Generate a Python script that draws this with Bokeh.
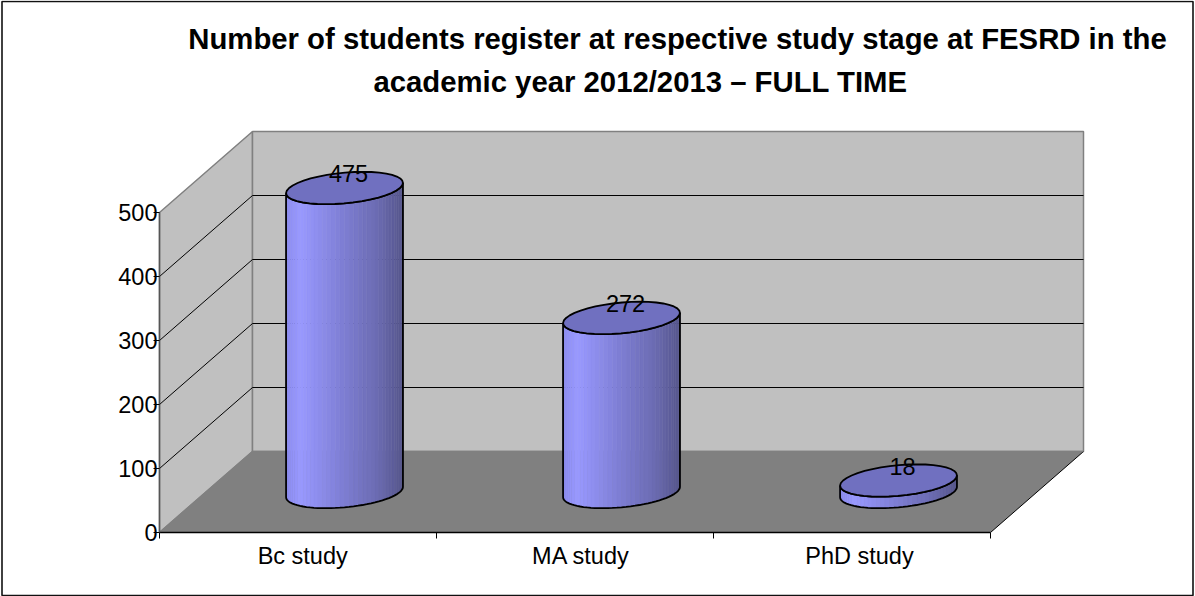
import numpy as np
from bokeh.plotting import figure
from bokeh.embed import file_html
from bokeh.resources import INLINE
from bokeh.models import Range1d, FixedTicker, Label, BoxAnnotation
from bokeh.core.properties import value

categories = ["Bc study", "MA study", "PhD study"]
students = [475, 272, 18]
y_ticks = [0, 100, 200, 300, 400, 500]
title_lines = ["Number of students register at respective study stage at FESRD in the",
               "academic year 2012/2013 \u2013 FULL TIME"]

FONT = "Liberation Sans"
W, H = 1195, 596
PX_X = 277.0   # pixels per category
PX_Y = 0.64    # pixels per student
DX = 93 / PX_X  # depth offset in x units
DY = 81 / PX_Y  # depth offset in y units
ORIGIN_X, ORIGIN_Y = 159, 532  # where category 0 / value 0 fall on the page

p = figure(width=W, height=H, output_backend="svg", toolbar_location=None,
           x_range=Range1d(-ORIGIN_X / PX_X, (W - ORIGIN_X) / PX_X),
           y_range=Range1d(-(H - ORIGIN_Y) / PX_Y, ORIGIN_Y / PX_Y),
           min_border=0,
           background_fill_color="white", border_fill_color="white", outline_line_color=None)
p.styles = {"position": "absolute", "left": "0px", "top": "0px"}
p.grid.visible = False

# floor and walls
p.patch([0, DX, DX, 0], [0, DY, 500 + DY, 500], fill_color="#C0C0C0", line_color="#808080", line_width=1.5)
p.patch([DX, 3 + DX, 3 + DX, DX], [DY, DY, 500 + DY, 500 + DY], fill_color="#C0C0C0", line_color="#808080", line_width=1.5)
p.patch([0, 3, 3 + DX, DX], [0, 0, DY, DY], fill_color="#808080", line_color=None)
p.line([3, 3 + DX], [0, DY], line_color="black", line_width=1)
p.line([DX, 3 + DX], [DY, DY], line_color="#808080", line_width=1.5)
p.line([0, DX], [0, DY], line_color="#808080", line_width=1.5)

# gridlines
for t in y_ticks[1:-1]:
    p.line([0, DX, 3 + DX], [t, t + DY, t + DY], line_color="black", line_width=1)

# cylinders
RX = 0.2
RD = 0.2
angles = np.linspace(0, 2 * np.pi, 41)
phi = np.arctan2(RD * DX, RX)  # angle of the right silhouette extreme


def rim(cx, level, t):
    return (cx + 0.5 + DX / 2 + RX * np.cos(t) + RD * DX * np.sin(t),
            level + DY / 2 + RD * DY * np.sin(t))


def shade(f):
    stops = [(0.0, (140, 140, 240)), (0.12, (153, 153, 255)), (0.5, (125, 125, 210)),
             (0.8, (106, 106, 175)), (1.0, (86, 86, 140))]
    for (a, ca), (b, cb) in zip(stops, stops[1:]):
        if f <= b:
            m = (f - a) / (b - a)
            return "#%02x%02x%02x" % tuple(int(round(u + (v - u) * m)) for u, v in zip(ca, cb))
    return "#56568c"


for i, v in enumerate(students):
    # front half of the rim runs from the right extreme to the left extreme
    ts = np.linspace(phi, phi - np.pi, 41)
    bx, by = rim(i, 0, ts)
    tx, ty = rim(i, v, ts)
    xs, ys, cols = [], [], []
    x0, x1 = bx.min(), bx.max()
    for j in range(len(ts) - 1):
        xs.append([bx[j], bx[j + 1], tx[j + 1], tx[j]])
        ys.append([by[j], by[j + 1], ty[j + 1], ty[j]])
        cols.append(shade(((bx[j] + bx[j + 1]) / 2 - x0) / (x1 - x0)))
    p.patches(xs, ys, fill_color=cols, line_color=cols, line_width=0.5)
    # silhouette
    p.line(list(tx) + list(bx[::-1]) + [tx[0]], list(ty) + list(by[::-1]) + [ty[0]],
           line_color="black", line_width=1.8)
    # top ellipse
    ex, ey = rim(i, v, angles)
    p.patch(ex, ey, fill_color="#7070C0", line_color="black", line_width=1.8)
    # value label
    p.text([i + 0.5 + DX / 2], [v + DY / 2 + RD * DY], text=[str(v)], text_font=value(FONT),
           text_font_size="23.5px", text_color="black", text_align="center", text_baseline="middle",
           x_offset=4, y_offset=2)

# axes, fixed on the chart's origin so the frame can fill the whole canvas
ax = p.xaxis[0]
ax.fixed_location = 0
ax.bounds = (0, 3)
label_pos = [0.517, 1.522, 2.527]
ax.ticker = FixedTicker(ticks=label_pos, minor_ticks=[0, 1, 2, 3])
ax.major_label_overrides = dict(zip(label_pos, categories))
ax.major_tick_in = 0
ax.major_tick_out = 0
ax.minor_tick_in = 0
ax.minor_tick_out = 6
ax.minor_tick_line_color = "black"
ax.axis_line_color = "black"
ax.axis_line_width = 1.5
ax.major_label_standoff = 4
ax.major_label_text_font = FONT
ax.major_label_text_font_size = "23.5px"
ax.major_label_text_color = "black"

ay = p.yaxis[0]
ay.fixed_location = 0
ay.bounds = (0, 500)
ay.ticker = FixedTicker(ticks=y_ticks)
ay.major_tick_in = 0
ay.major_tick_out = 6
ay.major_tick_line_color = "black"
ay.minor_tick_line_color = None
ay.axis_line_color = "#555555"
ay.axis_line_width = 1.5
ay.major_label_standoff = -4
ay.major_label_text_font = FONT
ay.major_label_text_font_size = "23.5px"
ay.major_label_text_color = "black"

# title (screen units count from the frame's lower-left corner)
for txt, cx, cy in zip(title_lines, [677, 640], [38, 81]):
    p.add_layout(Label(x=cx, y=H - cy, x_units="screen", y_units="screen", text=txt,
                       text_font=FONT, text_font_size="29.3px", text_font_style="bold",
                       text_align="center", text_baseline="middle", text_color="black"))

# outer chart border
p.add_layout(BoxAnnotation(left=1.5, right=1192.5, top=H - 1, bottom=H - 595,
                           left_units="screen", right_units="screen", top_units="screen", bottom_units="screen",
                           fill_color=None, line_color="#111111", line_alpha=1.0, line_width=1.6))

open("out.html", "w").write(file_html(p, INLINE))
